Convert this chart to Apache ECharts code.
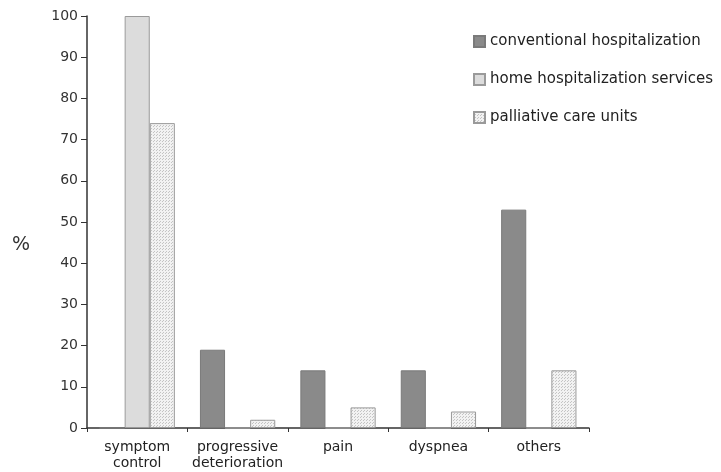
<!DOCTYPE html>
<html>
<head>
<meta charset="utf-8">
<script src="https://cdn.jsdelivr.net/npm/echarts@6/dist/echarts.min.js"></script>
<style>
  html, body { margin: 0; padding: 0; background: #fff; }
  #chart { width: 721px; height: 472px; }
</style>
</head>
<body>
<div id="chart"></div>
<script>
// Reasons for admission, % of patients per setting
const categories = ['symptom\ncontrol', 'progressive\ndeterioration', 'pain', 'dyspnea', 'others'];
const conventional = [0, 19, 14, 14, 53];
const homeServices = [100, 0, 0, 0, 0];
const palliativeUnits = [74, 2, 5, 4, 14];
const yTicks = [0, 10, 20, 30, 40, 50, 60, 70, 80, 90, 100];

// Fine dotted fill for the palliative care series
function dotPattern() {
  const c = document.createElement('canvas');
  c.width = 3; c.height = 3;
  const g = c.getContext('2d');
  g.fillStyle = '#f2f2f2';
  g.fillRect(0, 0, 3, 3);
  g.fillStyle = '#c4c4c4';
  g.fillRect(0, 0, 1, 1);
  g.fillRect(1, 2, 1, 1);
  return c;
}

const chart = echarts.init(document.getElementById('chart'), null, { renderer: 'canvas' });
const font = 'DejaVu Sans, sans-serif';

chart.setOption({
  animation: false,
  textStyle: { fontFamily: font },
  grid: { left: 87, right: 132, top: 16, bottom: 44 },
  graphic: [{
    type: 'text',
    left: 12,
    top: 236,
    style: { text: '%', fontSize: 19, fill: '#333', fontFamily: font }
  }],
  legend: {
    orient: 'vertical',
    left: 468,
    top: 28,
    itemWidth: 11,
    itemHeight: 11,
    itemGap: 21,
    icon: 'rect',
    textStyle: { fontSize: 15, lineHeight: 17, color: '#222', fontFamily: font },
    data: ['conventional hospitalization', 'home hospitalization services', 'palliative care units']
  },
  xAxis: {
    type: 'category',
    data: categories,
    axisLine: { lineStyle: { color: '#333', width: 1.5 } },
    axisTick: { show: true, length: 4, lineStyle: { color: '#333' } },
    axisLabel: { fontSize: 14, color: '#222', margin: 11, lineHeight: 16, interval: 0 }
  },
  yAxis: {
    type: 'value',
    min: yTicks[0],
    max: yTicks[yTicks.length - 1],
    interval: 10,
    splitLine: { show: false },
    axisLine: { show: true, lineStyle: { color: '#333', width: 1.5 } },
    axisTick: { show: true, length: 6, lineStyle: { color: '#333' } },
    axisLabel: { fontSize: 14, color: '#333', margin: 9 }
  },
  series: [
    {
      name: 'conventional hospitalization',
      type: 'bar',
      data: conventional,
      barWidth: '25%',
      barGap: '0%',
      itemStyle: { color: '#8a8a8a', borderColor: '#7a7a7a', borderWidth: 1 }
    },
    {
      name: 'home hospitalization services',
      type: 'bar',
      data: homeServices,
      barWidth: '25%',
      itemStyle: { color: '#dcdcdc', borderColor: '#9a9a9a', borderWidth: 1 }
    },
    {
      name: 'palliative care units',
      type: 'bar',
      data: palliativeUnits,
      barWidth: '25%',
      itemStyle: { color: { image: dotPattern(), repeat: 'repeat' }, borderColor: '#9a9a9a', borderWidth: 1 }
    }
  ]
});
</script>
</body>
</html>
